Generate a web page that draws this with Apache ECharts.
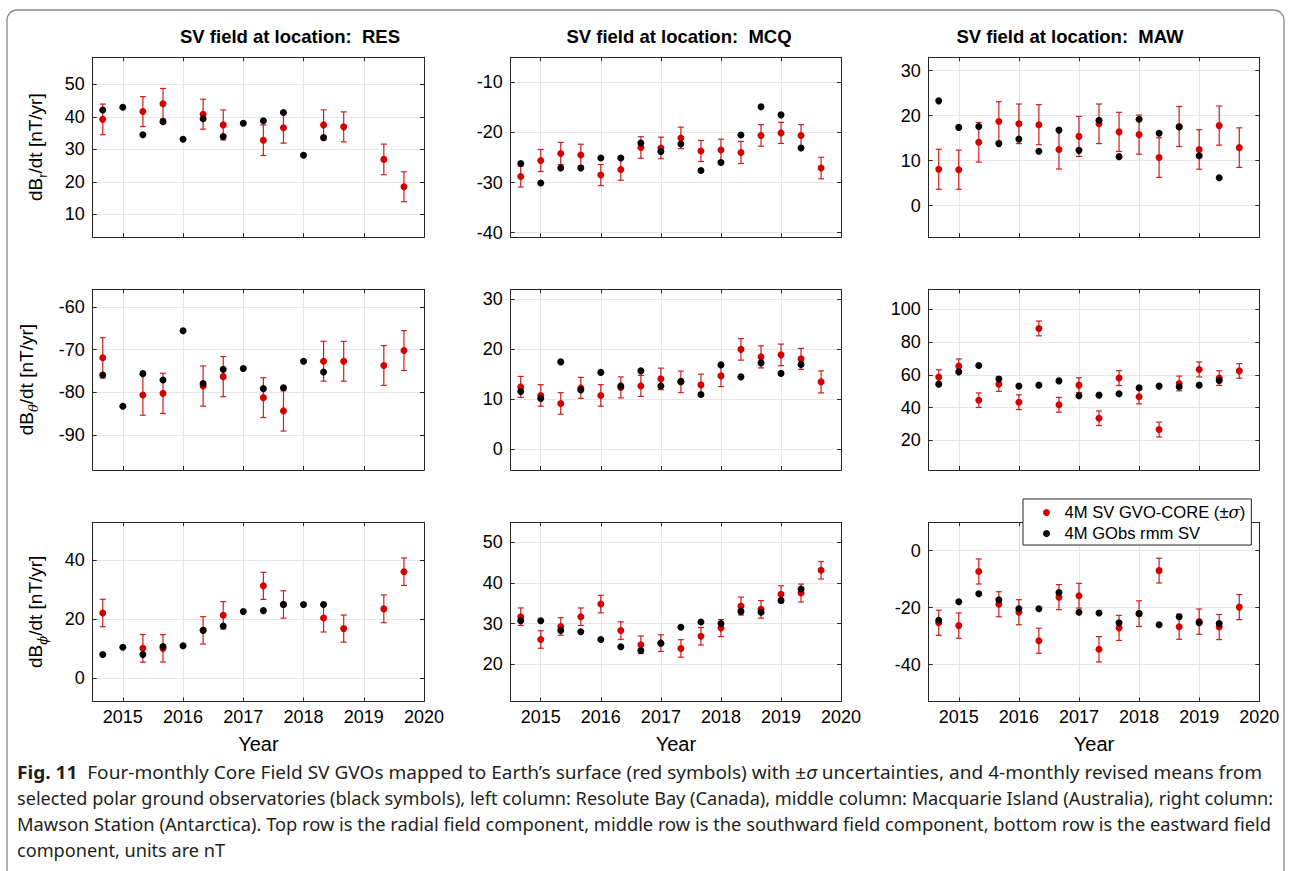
<!DOCTYPE html>
<html><head><meta charset="utf-8">
<script src="https://cdn.jsdelivr.net/npm/echarts@6/dist/echarts.min.js"></script>
<style>
html,body{margin:0;padding:0;background:#fff;overflow:hidden;}
#chart{position:absolute;left:0;top:0;width:1290px;height:871px;}
#caption{position:absolute;left:17px;top:759px;width:1300px;font-family:'Noto Sans';font-size:18.5px;color:#231f20;line-height:26px;}
#caption .ln{display:block;height:26px;white-space:nowrap;}
#caption .ln span{display:inline-block;white-space:nowrap;transform-origin:0 50%;}
</style></head><body>
<div id="chart"></div>
<div id="caption">
<div class="ln"><span><b>Fig. 11</b>&nbsp; Four-monthly Core Field SV GVOs mapped to Earth’s surface (red symbols) with ±<i>σ</i> uncertainties, and 4-monthly revised means from</span></div>
<div class="ln"><span>selected polar ground observatories (black symbols), left column: Resolute Bay (Canada), middle column: Macquarie Island (Australia), right column:</span></div>
<div class="ln"><span>Mawson Station (Antarctica). Top row is the radial field component, middle row is the southward field component, bottom row is the eastward field</span></div>
<div class="ln"><span>component, units are nT</span></div>
</div>
<script>
// ---------------- data ----------------
const epochs = [2014.667, 2015.0, 2015.333, 2015.667, 2016.0, 2016.333, 2016.667, 2017.0, 2017.333, 2017.667, 2018.0, 2018.333, 2018.667, 2019.0, 2019.333, 2019.667];
const yearTicks = [2015, 2016, 2017, 2018, 2019, 2020];
const stations = ['RES', 'MCQ', 'MAW'];
const components = ['r', 'θ', 'ϕ'];
const legendNames = ['4M SV GVO-CORE (±σ)', '4M GObs rmm SV'];

// RES
const RES_dBr_gvo   = [39.2, null, 41.6, 44.0, null, 40.8, 37.5, null, 32.8, 36.6, null, 37.5, 36.9, null, 26.9, 18.5];
const RES_dBr_sigma = [4.7, null, 4.6, 4.7, null, 4.6, 4.6, null, 4.7, 4.7, null, 4.6, 4.6, null, 4.7, 4.6];
const RES_dBr_obs   = [42.1, 42.9, 34.5, 38.5, 33.1, 39.4, 33.9, 38.0, 38.8, 41.3, 28.2, 33.6, null, null, null, null];
const RES_dBt_gvo   = [-71.9, null, -80.6, -80.2, null, -78.5, -76.3, null, -81.2, -84.3, null, -72.7, -72.7, null, -73.7, -70.2];
const RES_dBt_sigma = [4.7, null, 4.7, 4.7, null, 4.7, 4.7, null, 4.65, 4.7, null, 4.65, 4.65, null, 4.65, 4.65];
const RES_dBt_obs   = [-75.9, -83.2, -75.6, -77.1, -65.6, -77.9, -74.6, -74.4, -79.1, -78.9, -72.7, -75.2, null, null, null, null];
const RES_dBp_gvo   = [22.0, null, 10.0, 10.0, null, 16.1, 21.2, null, 31.2, 24.9, null, 20.3, 16.7, null, 23.4, 36.0];
const RES_dBp_sigma = [4.65, null, 4.7, 4.65, null, 4.65, 4.65, null, 4.6, 4.65, null, 4.75, 4.6, null, 4.7, 4.65];
const RES_dBp_obs   = [7.9, 10.4, 7.9, 10.6, 10.9, 16.1, 17.6, 22.5, 22.8, 24.9, 24.9, 24.9, null, null, null, null];
// MCQ
const MCQ_dBr_gvo   = [-28.8, -25.6, -24.2, -24.5, -28.5, -27.4, -23.0, -23.1, -21.1, -23.7, -23.5, -24.0, -20.6, -20.1, -20.6, -27.1];
const MCQ_dBr_sigma = [2.1, 2.2, 2.2, 2.15, 2.1, 2.15, 2.15, 2.15, 2.15, 2.1, 2.15, 2.2, 2.15, 2.1, 2.15, 2.15];
const MCQ_dBr_obs   = [-26.2, -30.1, -27.1, -27.1, -25.1, -25.1, -22.1, -23.8, -22.3, -27.6, -26.0, -20.5, -14.9, -16.5, -23.1, null];
const MCQ_dBt_gvo   = [12.5, 10.8, 9.2, 12.3, 10.8, 12.4, 12.7, 14.1, 13.5, 12.9, 14.7, 20.0, 18.5, 18.9, 18.1, 13.5];
const MCQ_dBt_sigma = [2.1, 2.15, 2.15, 2.1, 2.15, 2.1, 2.1, 2.15, 2.15, 2.15, 2.15, 2.15, 2.2, 2.15, 2.1, 2.2];
const MCQ_dBt_obs   = [11.6, 10.2, 17.5, 11.9, 15.4, 12.7, 15.7, 12.7, 13.6, 11.0, 16.9, 14.5, 17.3, 15.2, 17.0, null];
const MCQ_dBp_gvo   = [31.7, 26.1, 29.3, 31.7, 34.8, 28.3, 24.8, 25.2, 23.9, 26.9, 28.9, 34.3, 33.5, 37.2, 37.5, 43.1];
const MCQ_dBp_sigma = [2.15, 2.15, 2.15, 2.15, 2.15, 2.15, 2.15, 2.05, 2.15, 2.15, 2.1, 2.2, 2.15, 2.1, 2.2, 2.15];
const MCQ_dBp_obs   = [30.7, 30.7, 28.3, 28.0, 26.1, 24.3, 23.4, 25.2, 29.1, 30.4, 30.0, 33.0, 32.8, 35.7, 38.5, null];
// MAW
const MAW_dBr_gvo   = [8.1, 8.0, 14.1, 18.7, 18.2, 18.0, 12.5, 15.4, 18.2, 16.4, 15.8, 10.7, 17.6, 12.5, 17.8, 12.9];
const MAW_dBr_sigma = [4.45, 4.35, 4.4, 4.4, 4.4, 4.45, 4.35, 4.45, 4.4, 4.35, 4.35, 4.4, 4.45, 4.4, 4.35, 4.4];
const MAW_dBr_obs   = [23.3, 17.4, 17.6, 13.8, 14.8, 12.1, 16.8, 12.3, 19.0, 10.9, 19.2, 16.1, 17.5, 11.1, 6.2, null];
const MAW_dBt_gvo   = [58.6, 65.3, 44.5, 54.3, 43.3, 88.3, 41.7, 53.7, 33.5, 58.0, 46.6, 26.6, 54.7, 63.3, 58.0, 62.4];
const MAW_dBt_sigma = [4.5, 4.4, 4.45, 4.4, 4.5, 4.5, 4.5, 4.5, 4.45, 4.55, 4.35, 4.5, 4.5, 4.55, 4.45, 4.45];
const MAW_dBt_obs   = [54.3, 61.8, 65.7, 57.4, 53.1, 53.7, 56.3, 47.2, 47.6, 48.4, 52.1, 53.1, 52.7, 53.7, 56.5, null];
const MAW_dBp_gvo   = [-25.3, -26.3, -7.3, -18.8, -21.6, -31.6, -16.3, -15.8, -34.6, -27.1, -22.1, -7.0, -26.7, -24.9, -26.8, -19.8];
const MAW_dBp_sigma = [4.4, 4.45, 4.4, 4.4, 4.4, 4.4, 4.4, 4.35, 4.45, 4.4, 4.5, 4.35, 4.4, 4.45, 4.4, 4.4];
const MAW_dBp_obs   = [-24.4, -17.9, -15.1, -17.2, -20.4, -20.4, -14.7, -21.6, -21.9, -25.3, -22.1, -26.0, -23.2, -25.3, -25.6, null];

// y tick labels per panel (component rows x station columns)
const yTicks_r = [[10, 20, 30, 40, 50], [-40, -30, -20, -10], [0, 10, 20, 30]];
const yTicks_t = [[-90, -80, -70, -60], [0, 10, 20, 30], [20, 40, 60, 80, 100]];
const yTicks_p = [[0, 20, 40], [20, 30, 40, 50], [-40, -20, 0]];
const yLimits_r = [[3.0, 58.3], [-40.9, -5.0], [-7.0, 33.0]];
const yLimits_t = [[-98.1, -55.9], [-4.1, 32.0], [1.9, 112.2]];
const yLimits_p = [[-8.0, 52.8], [10.9, 54.9], [-52.9, 10.0]];

// ---------------- layout ----------------
const colLeft = [92.7, 510.7, 928.7], colWidth = [331.3, 330.4, 330.6];
const rowTop = [57.2, 289.3, 522.2], rowHeight = [180, 180.7, 179.2];
const titleCenters = [285, 674, 1065];
const nameGaps = [44, 53, 44];

const RED = '#d40000', BAR = '#d21c1c', INK = '#262626', GRIDC = '#e6e6e6';
const FONT = "'Liberation Sans', Arial, Helvetica, sans-serif";
const SERIF = "'DejaVu Serif', serif";

const table = [
  [[RES_dBr_gvo, RES_dBr_sigma, RES_dBr_obs], [MCQ_dBr_gvo, MCQ_dBr_sigma, MCQ_dBr_obs], [MAW_dBr_gvo, MAW_dBr_sigma, MAW_dBr_obs]],
  [[RES_dBt_gvo, RES_dBt_sigma, RES_dBt_obs], [MCQ_dBt_gvo, MCQ_dBt_sigma, MCQ_dBt_obs], [MAW_dBt_gvo, MAW_dBt_sigma, MAW_dBt_obs]],
  [[RES_dBp_gvo, RES_dBp_sigma, RES_dBp_obs], [MCQ_dBp_gvo, MCQ_dBp_sigma, MCQ_dBp_obs], [MAW_dBp_gvo, MAW_dBp_sigma, MAW_dBp_obs]]
];
const tickTable = [yTicks_r, yTicks_t, yTicks_p];
const limTable = [yLimits_r, yLimits_t, yLimits_p];

const grid = [], xAxis = [], yAxis = [], series = [];
function baseAxis(extra) {
  return Object.assign({
    type: 'value',
    axisLine: { show: true, onZero: false, lineStyle: { color: INK, width: 1 } },
    axisTick: { show: true, inside: true, length: 4, lineStyle: { color: INK, width: 1 } },
    axisLabel: { show: false },
    splitLine: { show: false }
  }, extra);
}
const plain = v => String(v);

for (let r = 0; r < 3; r++) {
  for (let c = 0; c < 3; c++) {
    const g = r * 3 + c;
    grid.push({ left: colLeft[c], top: rowTop[r], width: colWidth[c], height: rowHeight[r], outerBoundsMode: 'none', containLabel: false });
    const ticks = tickTable[r][c];
    const lim = limTable[r][c];
    xAxis.push(baseAxis({
      gridIndex: g, position: 'bottom', min: 2014.5, max: 2020,
      axisTick: { show: true, inside: true, length: 4, customValues: yearTicks, lineStyle: { color: INK } },
      axisLabel: { show: r === 2, customValues: yearTicks, formatter: plain, fontSize: 18, fontFamily: FONT, color: '#000', margin: 7 },
      splitLine: { show: true, lineStyle: { color: GRIDC, width: 1 } },
      name: r === 2 ? 'Year' : '', nameLocation: 'middle', nameGap: 33,
      nameTextStyle: { fontSize: 20, fontFamily: FONT, color: '#000' }
    }));
    xAxis.push(baseAxis({
      gridIndex: g, position: 'top', min: 2014.5, max: 2020,
      axisTick: { show: true, inside: true, length: 4, customValues: yearTicks, lineStyle: { color: INK } }
    }));
    const comp = components[r];
    const subStyle = comp === 'r' ? 'normal' : 'italic';
    yAxis.push(baseAxis({
      gridIndex: g, position: 'left', min: lim[0], max: lim[1],
      axisTick: { show: true, inside: true, length: 4, customValues: ticks, lineStyle: { color: INK } },
      axisLabel: { show: true, customValues: ticks, formatter: plain, fontSize: 18, fontFamily: FONT, color: '#000', margin: 8 },
      splitLine: { show: true, lineStyle: { color: GRIDC, width: 1 } },
      name: c === 0 ? '{m|dB}{s|' + comp + '}{m|/dt [nT/yr]}' : '',
      nameLocation: 'middle', nameRotate: 90, nameGap: nameGaps[r],
      nameTextStyle: {
        fontSize: 19, fontFamily: FONT, color: '#000',
        rich: {
          m: { fontSize: 19, fontFamily: FONT, color: '#000', lineHeight: 26 },
          s: { fontSize: 13, fontFamily: comp === 'r' ? FONT : SERIF, fontStyle: subStyle, color: '#000', lineHeight: 14, verticalAlign: 'bottom' }
        }
      }
    }));
    yAxis.push(baseAxis({
      gridIndex: g, position: 'right', min: lim[0], max: lim[1],
      axisTick: { show: true, inside: true, length: 4, customValues: ticks, lineStyle: { color: INK } }
    }));

    const [gvo, sig, obs] = table[r][c];
    const errData = [], redData = [], blackData = [];
    epochs.forEach((t, i) => {
      if (gvo[i] != null) {
        errData.push([t, gvo[i] - sig[i], gvo[i] + sig[i]]);
        redData.push([t, gvo[i]]);
      }
      if (obs[i] != null) blackData.push([t, obs[i]]);
    });
    const xi = 2 * g, yi = 2 * g;
    series.push({
      type: 'custom', xAxisIndex: xi, yAxisIndex: yi, data: errData, silent: true, z: 2,
      encode: { x: 0, y: [1, 2] },
      renderItem: function (params, api) {
        const x = api.value(0);
        const lo = api.coord([x, api.value(1)]);
        const hi = api.coord([x, api.value(2)]);
        const hw = 3;
        const st = { stroke: BAR, lineWidth: 1.2 };
        return {
          type: 'group', children: [
            { type: 'line', shape: { x1: lo[0], y1: lo[1], x2: hi[0], y2: hi[1] }, style: st },
            { type: 'line', shape: { x1: lo[0] - hw, y1: lo[1], x2: lo[0] + hw, y2: lo[1] }, style: st },
            { type: 'line', shape: { x1: hi[0] - hw, y1: hi[1], x2: hi[0] + hw, y2: hi[1] }, style: st }
          ]
        };
      }
    });
    series.push({
      type: 'scatter', name: legendNames[0], xAxisIndex: xi, yAxisIndex: yi, data: redData,
      symbol: 'circle', symbolSize: 7, itemStyle: { color: RED, opacity: 1 }, z: 3, silent: true
    });
    series.push({
      type: 'scatter', name: legendNames[1], xAxisIndex: xi, yAxisIndex: yi, data: blackData,
      symbol: 'circle', symbolSize: 7, itemStyle: { color: '#000', opacity: 1 }, z: 4, silent: true
    });
  }
}

const titles = stations.map((s, c) => ({
  text: 'SV field at location:  ' + s, left: titleCenters[c], top: 22, textAlign: 'center',
  textStyle: { fontSize: 18.5, fontWeight: 'bold', fontFamily: FONT, color: '#000' }
}));

const chart = echarts.init(document.getElementById('chart'), null, { renderer: 'svg' });
chart.setOption({
  animation: false,
  backgroundColor: '#fff',
  title: titles,
  grid, xAxis, yAxis, series,
  legend: {
    data: legendNames, selectedMode: false, orient: 'vertical', left: 1023, top: 499,
    icon: 'circle', itemWidth: 26, itemHeight: 7, itemGap: 4,
    itemStyle: { opacity: 1 },
    padding: [5, 6, 3, 20], borderColor: INK, borderWidth: 1, backgroundColor: '#fff', z: 10,
    textStyle: {
      fontSize: 16.6, fontFamily: FONT, color: '#000', lineHeight: 17,
      rich: { i: { fontSize: 16.6, fontFamily: SERIF, fontStyle: 'italic', color: '#000' } }
    },
    formatter: n => n.replace('σ', '{i|σ}')
  },
  graphic: [{
    type: 'rect', shape: { x: 7, y: 10, width: 1277, height: 900, r: 10 },
    style: { fill: null, stroke: '#8a8a8a', lineWidth: 1.3 }, silent: true, z: -10
  }]
});

// long caption lines are fitted to the reference line ends; the short last line uses the common scale
const captionTargets = [1245, 1256, 1254, null];
function fitCaption() {
  const spans = document.querySelectorAll('#caption .ln span');
  let common = 1;
  spans.forEach((sp, i) => {
    sp.style.transform = '';
    const w = sp.getBoundingClientRect().width;
    if (i === 1) common = captionTargets[1] / w;
    const s = captionTargets[i] ? captionTargets[i] / w : common;
    sp.style.transform = 'scaleX(' + s + ')';
  });
}
fitCaption();
if (document.fonts && document.fonts.ready) document.fonts.ready.then(fitCaption);
</script>
</body></html>
